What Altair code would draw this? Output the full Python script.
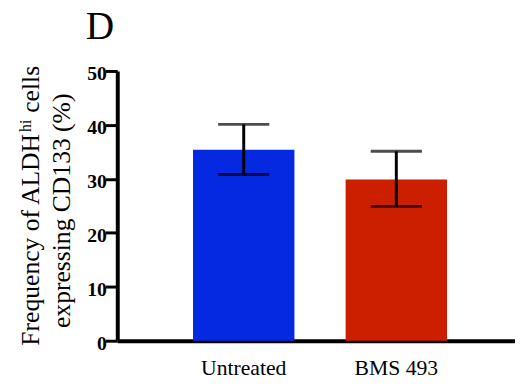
import altair as alt
import pandas as pd

# ---- data ----
groups = ["Untreated", "BMS 493"]
means = [35.4, 29.9]
lower = [30.8, 24.9]
upper = [40.1, 35.1]
bar_colors = ["#0529E0", "#CC1F00"]
y_ticks = [0, 10, 20, 30, 40, 50]
panel_label = "D"
title_main = "Frequency of ALDH"
title_sup = "hi"
title_end = "cells"
title_line2 = "expressing CD133 (%)"

df = pd.DataFrame({"group": groups, "mean": means, "lower": lower,
                   "upper": upper, "color": bar_colors})

SERIF = "Liberation Serif"

# layout constants (pixels, relative to the plot area)
TS = 26          # title font size
SS = 16          # superscript size
T_START = 279    # where line 1 starts (bottom)
W_MAIN = 8.331 * TS
W_SUP = 0.778 * SS + 1
W_SPACE = 0.25 * TS
L1_X = -79.5
L2_X = -48.5

xscale = alt.Scale(domain=groups, paddingInner=0.3355, paddingOuter=0.471, align=0.527)
xenc = alt.X("group:N", scale=xscale, sort=groups,
             axis=alt.Axis(title=None, labelAngle=0, ticks=False, tickSize=0,
                           labelPadding=17, labelFont=SERIF, labelFontSize=22,
                           labelColor="black", domainColor="black", domainWidth=4))
yscale = alt.Scale(domain=[0, 50], nice=False, zero=True)

bars = alt.Chart(df).mark_bar().encode(
    x=xenc,
    y=alt.Y("mean:Q", scale=yscale,
            axis=alt.Axis(values=y_ticks, title=None, grid=False,
                          tickSize=12, tickWidth=3, tickColor="black",
                          labelPadding=-1, labelFont=SERIF, labelFontSize=20,
                          labelFontWeight="bold", labelColor="black", labelOffset=2.5,
                          domainColor="black", domainWidth=4)),
    color=alt.Color("color:N", scale=None),
)

rules = alt.Chart(df).mark_rule(color="black", strokeWidth=3).encode(
    x=alt.X("group:N", scale=xscale, sort=groups),
    y=alt.Y("lower:Q", scale=yscale),
    y2="upper:Q",
)
caps_hi = alt.Chart(df).mark_tick(color="black", thickness=3, size=52, orient="horizontal").encode(
    x=alt.X("group:N", scale=xscale, sort=groups),
    y=alt.Y("upper:Q", scale=yscale),
)
caps_lo = alt.Chart(df).mark_tick(color="black", thickness=3, size=52, orient="horizontal").encode(
    x=alt.X("group:N", scale=xscale, sort=groups),
    y=alt.Y("lower:Q", scale=yscale),
)


def text_layer(txt, size, x, y, align="left", angle=270):
    return alt.Chart(pd.DataFrame({"t": [txt]})).mark_text(
        font=SERIF, fontSize=size, align=align, baseline="alphabetic",
        color="black", angle=angle).encode(
        x=alt.value(x), y=alt.value(y), text="t:N")


label = text_layer(panel_label, 40, -32, -32, angle=0)
t1 = text_layer(title_main, TS, L1_X, T_START)
t2 = text_layer(title_sup, SS, L1_X - 8, T_START - W_MAIN - 0.5)
t3 = text_layer(title_end, TS, L1_X, T_START - W_MAIN - W_SUP - W_SPACE)
t4 = text_layer(title_line2, TS, L2_X, 142, align="center")

chart = alt.layer(bars, rules, caps_hi, caps_lo, label, t1, t2, t3, t4).properties(
    width=404, height=274,
    autosize=alt.AutoSizeParams(type="none"),
    padding={"left": 111, "top": 61, "right": 0, "bottom": 40},
).configure_view(stroke=None).configure_axis(
    labelFont=SERIF, titleFont=SERIF
).configure_text(font=SERIF)

chart.save("out.html", embed_options={"renderer": "svg", "actions": False})
